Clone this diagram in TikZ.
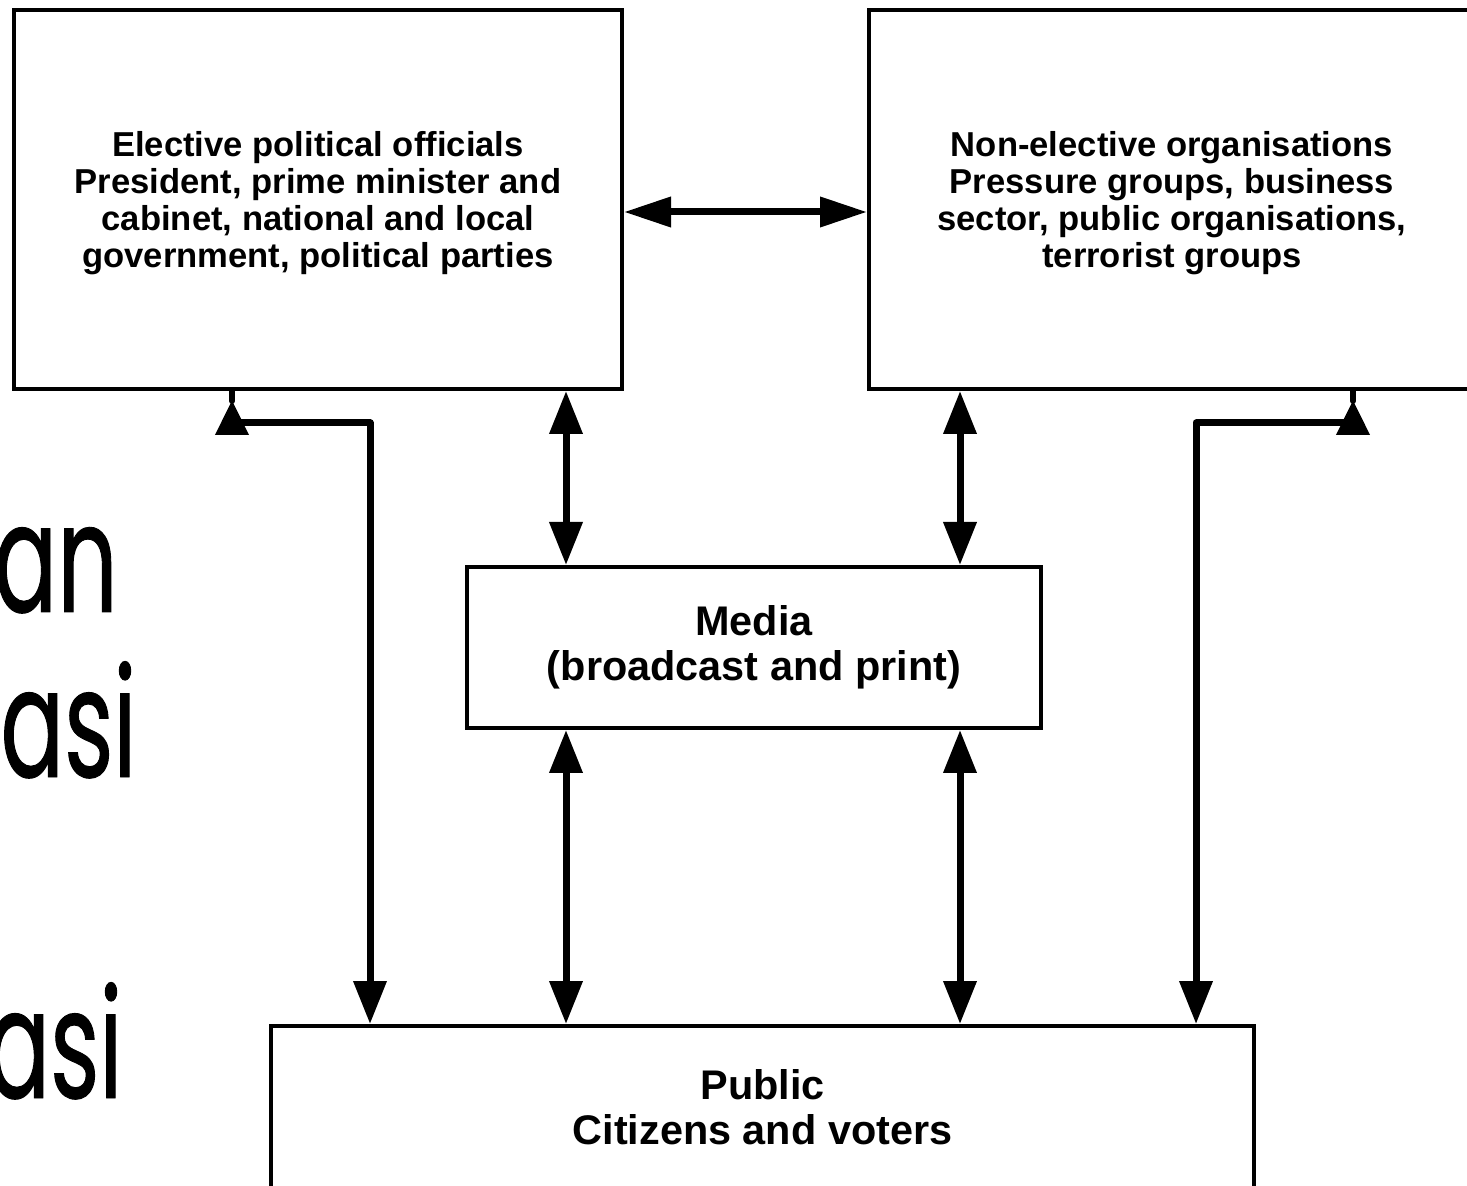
\documentclass[tikz,border=0pt]{standalone}
\usepackage{fontspec}
\setmainfont{Liberation Sans}
\newfontfamily\handfont[FakeStretch=0.62,FakeBold=0.6]{Poppins}
\usetikzlibrary{arrows.meta}

\tikzset{
  box/.style={draw, line width=2pt, inner sep=0pt, align=center,
    font=\fontsize{17.3}{18.6}\selectfont\bfseries},
  bigbox/.style={box, font=\fontsize{20.7}{22.3}\selectfont\bfseries},
  hand/.style={inner sep=0pt, font=\handfont\fontsize{76}{78}\selectfont},
  link/.style={line width=3.5pt,
    {Triangle[length=21.5pt,width=16pt]}-{Triangle[length=21.5pt,width=16pt]}},
  sidelink/.style={line width=3.5pt,
    {Triangle[length=23.5pt,width=14.5pt]}-{Triangle[length=23.5pt,width=14.5pt]}},
  elbow/.style={line width=3.5pt, line join=round, shorten >=4.5pt,
    {Triangle[length=21.5pt,width=16pt]}-{Triangle[length=17.5pt,width=16pt]}},
  stub/.style={line width=3pt, line cap=round}
}

\begin{document}
\begin{tikzpicture}[x=0.5pt,y=-0.5pt]
% page size, everything outside is cut off
\useasboundingbox (0,0) rectangle (1467,1186);
\clip (0,0) rectangle (1467,1186);

% slide text behind the diagram
\node[hand, anchor=base east] (t1) at (118,612) {an};
\node[hand, anchor=base east] (t2) at (137,777) {asi};
\node[hand, anchor=base east] (t3) at (123,1098) {asi};

% boxes
\node[box, minimum width=304pt, minimum height=189.5pt] (elect) at (318,199.5)
  {\rule{0pt}{16pt}Elective political officials\\ President, prime minister and\\
   cabinet, national and local\\ government, political parties};
\node[box, minimum width=303pt, minimum height=189.5pt] (nonel) at (1172,199.5)
  {\rule{0pt}{16pt}Non-elective organisations\\ Pressure groups, business\\
   sector, public organisations,\\ terrorist groups};
\node[bigbox, minimum width=287pt, minimum height=80.5pt] (media) at (754,647.5)
  {Media\\ (broadcast and print)};
\node[bigbox, minimum width=491.5pt, minimum height=81pt] (public) at (762.5,1107)
  {Public\\ Citizens and voters};

% helper coordinates for the lines
\coordinate (h) at (0,212);
\coordinate (k) at (0,423);
\coordinate (m1) at (566,0);
\coordinate (m2) at (960,0);
\coordinate (l1) at (370,0);
\coordinate (l2) at (232,0);
\coordinate (r1) at (1196,0);
\coordinate (r2) at (1353,0);

% top boxes talk to each other
\draw[sidelink] (elect.east |- h) -- (nonel.west |- h);

% through the media
\draw[link] (elect.south -| m1) -- (media.north -| m1);
\draw[link] (nonel.south -| m2) -- (media.north -| m2);
\draw[link] (media.south -| m1) -- (public.north -| m1);
\draw[link] (media.south -| m2) -- (public.north -| m2);

% direct lines to the public
\draw[elbow] (public.north -| l1) -- (l1 |- k) -- (l2 |- k) -- (elect.south -| l2);
\draw[stub] (elect.south -| l2) -- ++(0,10);
\draw[elbow] (public.north -| r1) -- (r1 |- k) -- (r2 |- k) -- (nonel.south -| r2);
\draw[stub] (nonel.south -| r2) -- ++(0,10);
\end{tikzpicture}
\end{document}
